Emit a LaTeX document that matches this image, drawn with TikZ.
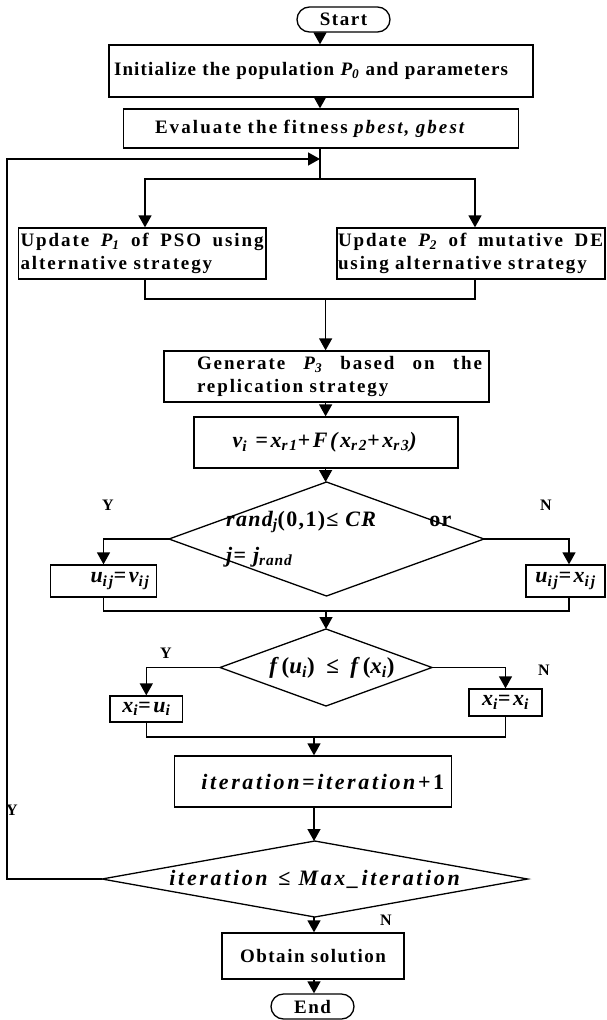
\documentclass[tikz,border=0pt]{standalone}
\usepackage{fontspec}
\setmainfont{Liberation Serif}
\usetikzlibrary{arrows.meta,shapes.geometric,calc}
\newcommand{\sbs}[1]{\textsubscript{#1}}
\begin{document}
\begin{tikzpicture}[x=1pt,y=-1pt,
  ln/.style={line width=1.4pt},
  arr/.style={ln,-{Triangle[length=12pt,width=13pt]}},
  box/.style={draw,line width=1.3pt,rectangle,inner ysep=0pt,align=center},
  term/.style={box,rounded corners=12.5pt},
  dia/.style={draw,line width=1.3pt,diamond,inner sep=0pt,outer sep=0pt},
  tf/.style={font=\fontsize{19}{23}\selectfont\bfseries\addfontfeatures{LetterSpace=10}},
  tg/.style={font=\fontsize{19}{23}\selectfont\bfseries\addfontfeatures{LetterSpace=6}},
  te/.style={font=\fontsize{19}{23}\selectfont\bfseries\addfontfeatures{LetterSpace=11}},
  sf/.style={font=\fontsize{19}{22}\selectfont\bfseries\addfontfeatures{LetterSpace=8}},
  mf/.style={font=\fontsize{22}{26}\selectfont\bfseries\addfontfeatures{LetterSpace=12}},
  lbl/.style={font=\fontsize{16}{18}\selectfont\bfseries,inner sep=0pt}]
\useasboundingbox (0,0) rectangle (606,1020);

% coordinates of the connector axes
\coordinate (ax1) at (320,0);
\coordinate (split) at (320,179);
\coordinate (loopJ) at (320,159);
\coordinate (loopB) at (7,879);
\coordinate (m1) at (325.6,299);
\coordinate (m2) at (326,611);
\coordinate (m3) at (314,737);

% nodes
\node[term,sf,minimum width=93pt,minimum height=25pt] (start) at (343.5,19.5) {Start};
\node[box,tg,minimum width=424pt,minimum height=52pt,text width=414pt,inner xsep=5pt,align=left] (init) at (321,71)
  {Initialize the population \textit{P\sbs{0}} and parameters};
\node[box,te,minimum width=395pt,minimum height=39pt,text width=332pt,inner xsep=31.5pt,align=left] (eval) at (321,128.5)
  {Evaluate the fitness \textit{pbest, gbest}};
\node[box,tf,minimum width=247.4pt,minimum height=51pt,text width=243.4pt,inner xsep=2pt,align=left] (up1) at (142.3,253.5)
  {\makebox[243pt][l]{Update\hfill\textit{P\sbs{1}}\hfill of\hfill PSO\hfill using}\\alternative strategy};
\node[box,tf,minimum width=268pt,minimum height=51pt,text width=266pt,inner xsep=1pt,align=left] (up2) at (471,253.5)
  {\makebox[265pt][l]{Update\hfill\textit{P\sbs{2}}\hfill of\hfill mutative\hfill DE}\\using alternative strategy};
\node[box,tf,minimum width=325pt,minimum height=51pt,text width=311pt,inner xsep=7pt,align=left] (gen) at (326.5,376.5)
  {\hspace*{26pt}\makebox[285pt][l]{Generate\hfill\textit{P\sbs{3}}\hfill based\hfill on\hfill the}\\\hspace*{26pt}replication strategy};
\node[box,mf,minimum width=264pt,minimum height=51pt] (vi) at (326,442.5)
  {\textit{v\sbs{i} =x\sbs{r1}+F(x\sbs{r2}+x\sbs{r3})}};
\node[dia,minimum width=315pt,minimum height=114pt] (d1) at (326.5,539) {};
\node[font=\fontsize{22}{36}\selectfont\bfseries\addfontfeatures{LetterSpace=6},align=left,anchor=west,inner sep=0pt] (d1t) at (226,539)
  {\textit{rand\sbs{j}}(0,1)≤ \textit{CR}\hspace{52pt}or\\\textit{j}= \textit{j\sbs{rand}}};
\node[box,mf,minimum width=106pt,minimum height=32pt,text width=92pt,inner xsep=7pt,align=right] (uv) at (103.5,581)
  {\textit{u\sbs{ij}=v\sbs{ij}}};
\node[box,mf,minimum width=79pt,minimum height=32pt,inner xsep=1pt] (ux) at (565.5,581)
  {\textit{u\sbs{ij}=x\sbs{ij}}};
\node[dia,minimum width=212pt,minimum height=77pt] (d2) at (326,667.5) {};
\node[font=\fontsize{23}{26}\selectfont\bfseries\addfontfeatures{LetterSpace=12},inner sep=0pt] (d2t) at (332,668)
  {\textit{f}(\textit{u\sbs{i}})\hspace{3pt} ≤ \hspace{3pt}\textit{f}(\textit{x\sbs{i}})};
\node[box,mf,minimum width=72.6pt,minimum height=26pt,inner xsep=1pt] (xu) at (146.3,709)
  {\textit{x\sbs{i}=u\sbs{i}}};
\node[box,mf,minimum width=73pt,minimum height=27pt,inner xsep=1pt] (xx) at (505.5,702.5)
  {\textit{x\sbs{i}=x\sbs{i}}};
\node[box,mf,minimum width=276.5pt,minimum height=51pt,text width=262.5pt,inner xsep=7pt,align=right] (iter) at (313,781.5)
  {\textit{iteration=iteration}+1};
\node[dia,minimum width=425.6pt,minimum height=76pt] (d3) at (314.8,879) {};
\node[mf,inner sep=0pt] (d3t) at (316,879)
  {\textit{iteration} ≤ \textit{Max\_iteration}};
\node[box,sf,minimum width=182pt,minimum height=46pt] (obtain) at (313,956) {Obtain solution};
\node[term,sf,minimum width=83pt,minimum height=25pt] (end) at (312.5,1006.5) {End};

% labels
\node[lbl] (y1) at (108,505) {Y};
\node[lbl] (n1) at (546,505) {N};
\node[lbl] (y2) at (166,653) {Y};
\node[lbl] (n2) at (544,670) {N};
\node[lbl] (y3) at (12,810) {Y};
\node[lbl] (n3) at (386,920) {N};

% connectors
\draw[arr] (start.south -| ax1) -- (init.north -| ax1);
\draw[arr] (init.south -| ax1) -- (eval.north -| ax1);
\draw[ln] (eval.south -| ax1) -- (split);
\draw[arr] (split) -| ($(up1.north)+(2.7,0)$);
\draw[arr] (split) -| ($(up2.north)+(4,0)$);
\draw[ln] ($(up1.south)+(2.7,0)$) |- (m1) -| ($(up2.south)+(4,0)$);
\draw[arr] (m1) -- (gen.north -| m1);
\draw[arr] (gen.south -| m1) -- (vi.north -| m1);
\draw[arr] (vi.south -| m1) -- (d1.north -| m1);
\draw[arr] (d1.west) -| (uv.north);
\draw[arr] (d1.east) -| ($(ux.north)+(3.5,0)$);
\draw[ln] (uv.south) |- (m2) -| ($(ux.south)+(3.5,0)$);
\draw[arr] (m2) -- (d2.north -| m2);
\draw[arr] (d2.west) -| (xu.north);
\draw[arr] (d2.east) -| (xx.north);
\draw[ln] (xu.south) |- (m3) -| (xx.south);
\draw[arr] (m3) -- (iter.north -| m3);
\draw[arr] (iter.south -| m3) -- (d3.north -| m3);
\draw[arr] (d3.south -| m3) -- (obtain.north -| m3);
\draw[arr] (obtain.south -| m3) -- (end.north -| m3);
\draw[arr] (d3.west) -- (loopB) |- (loopJ);
\end{tikzpicture}
\end{document}
